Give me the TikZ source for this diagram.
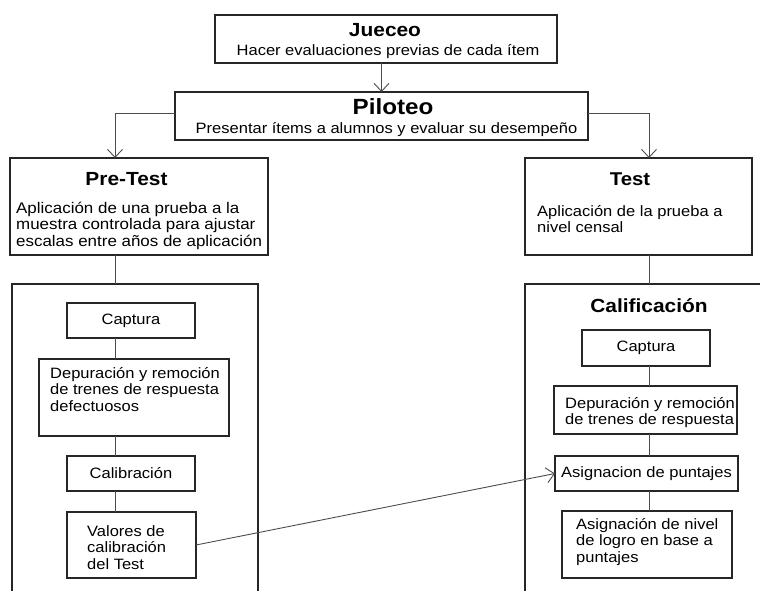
\documentclass[tikz,border=0pt]{standalone}
\usepackage{fontspec}
\setmainfont[FakeStretch=1.1]{Liberation Sans}
\usetikzlibrary{arrows.meta}

\newcommand\bodyfont{\fontsize{15}{16.8}\selectfont}
\newcommand\headfont[1]{\bfseries\fontsize{#1}{#1}\selectfont}

\tikzset{
  frame/.style={draw=black!85, line width=1.1pt},
  stage/.style={frame, anchor=north west, inner sep=0pt, outer sep=0pt, font=\bodyfont},
  lbl/.style={anchor=north west, inner sep=0pt, align=left, font=\bodyfont},
  head/.style={anchor=base, inner sep=0pt},
  line1/.style={anchor=base, inner sep=0pt, font=\bodyfont},
  link/.style={draw=black!70, line width=0.9pt},
  flow/.style={link, -{Straight Barb[length=8pt,width=15pt]}},
}

\begin{document}
\begin{tikzpicture}[x=1pt,y=-1pt]
\useasboundingbox (0,0) rectangle (760,591);
\clip (0,0) rectangle (760,591);

% top stages
\node[stage, minimum width=342pt, minimum height=48pt] (jue) at (215,15) {};
\node[head, font=\headfont{19}] (jueT) at (385,37) {Jueceo};
\node[line1] (jueB) at (388,56) {Hacer evaluaciones previas de cada ítem};

\node[stage, minimum width=413pt, minimum height=48pt] (pil) at (175,92) {};
\node[head, font=\headfont{22}] (pilT) at (393,114) {Piloteo};
\node[line1] (pilB) at (386.5,133) {Presentar ítems a alumnos y evaluar su desempeño};

% second level
\node[stage, minimum width=258pt, minimum height=97pt] (pre) at (10,158) {};
\node[head, font=\headfont{19}] (preT) at (126.5,185) {Pre-Test};
\node[lbl, font=\fontsize{15.4}{16.8}\selectfont] (preB) at (16,201.2)
  {\strut Aplicación de una prueba a la\\ muestra controlada para ajustar\\ escalas entre años de aplicación};

\node[stage, minimum width=227pt, minimum height=97pt] (test) at (525,158) {};
\node[head, font=\headfont{18.5}] (testT) at (630,185) {Test};
\node[lbl] (testB) at (537,204.2) {\strut Aplicación de la prueba a\\ nivel censal};

% group frames (run past the lower edge)
\draw[frame] (12,600) -- (12,284) -- (258,284) -- (258,600);
\draw[frame] (525,600) -- (525,284) -- (770,284);
\coordinate (lo) at (115,284);
\coordinate (ro) at (649,284);
\coordinate (pret) at (115,158);
\coordinate (testt) at (649,158);

\node[head, font=\headfont{19}] (calT) at (649,312.7) {Calificación};

% left chain
\node[stage, minimum width=128pt, minimum height=35pt] (lcap) at (67,303) {Captura};
\node[stage, minimum width=190pt, minimum height=77pt] (ldep) at (39,359) {};
\node[lbl] (ldepB) at (50,366.2) {\strut Depuración y remoción\\ de trenes de respuesta\\ defectuosos};
\node[stage, minimum width=128pt, minimum height=35pt] (lcal) at (67,456) {Calibración};
\node[stage, minimum width=129pt, minimum height=66pt] (lval) at (67,512) {};
\node[lbl] (lvalB) at (87,524.2) {\strut Valores de\\ calibración\\ del Test};

% right chain
\node[stage, minimum width=128pt, minimum height=36pt] (rcap) at (582,330) {Captura};
\node[stage, minimum width=183pt, minimum height=48pt] (rdep) at (554,386) {};
\node[lbl] (rdepB) at (565,396.2) {\strut Depuración y remoción\\ de trenes de respuesta};
\node[stage, minimum width=183pt, minimum height=35pt] (rasg) at (555,456) {Asignacion de puntajes};
\node[stage, minimum width=170pt, minimum height=67pt] (rniv) at (562,511) {};
\node[lbl] (rnivB) at (576,517.2) {\strut Asignación de nivel\\ de logro en base a\\ puntajes};

% connectors
\draw[flow] (jue.south -| pil.north) -- (pil.north);
\draw[flow] ([yshift=3pt]pil.west) -| (pret);
\draw[flow] ([yshift=3pt]pil.east) -| (testt);
\draw[link] (pre.south -| lo) -- (lo);
\draw[link] (test.south -| ro) -- (ro);
\draw[link] (lcap.south -| lo) -- (ldep.north -| lo);
\draw[link] (ldep.south -| lo) -- (lcal.north -| lo);
\draw[link] (lcal.south -| lo) -- (lval.north -| lo);
\draw[link] (rcap.south -| ro) -- (rdep.north -| ro);
\draw[link] (rdep.south -| ro) -- (rasg.north -| ro);
\draw[link] (rasg.south -| ro) -- (rniv.north -| ro);
\draw[flow] (lval.east) -- (rasg.west);
\end{tikzpicture}
\end{document}
